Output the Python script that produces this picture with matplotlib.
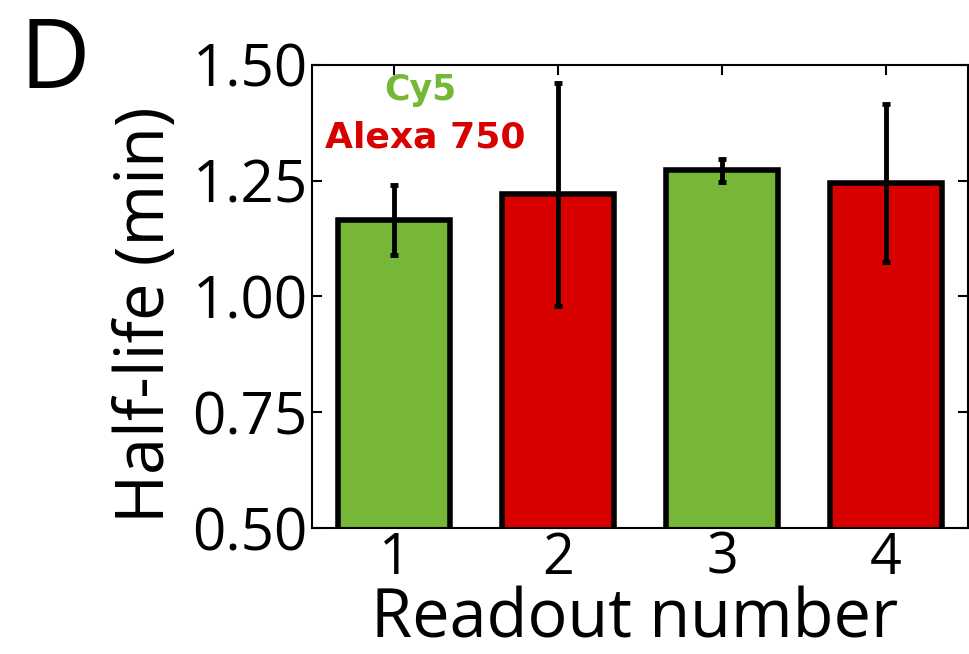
import matplotlib.pyplot as plt

plt.rcParams['font.family'] = ['Open Sans', 'DejaVu Sans']

# half-life per readout round, with error bars
readouts = [1, 2, 3, 4]
half_life = [1.165, 1.22, 1.272, 1.245]
half_life_err = [0.075, 0.24, 0.025, 0.17]
dyes = ['Cy5', 'Alexa 750', 'Cy5', 'Alexa 750']

green = '#76B737'
red = '#D90000'
dye_colors = {'Cy5': green, 'Alexa 750': red}

fig = plt.figure(figsize=(9.69, 6.54), dpi=100)
ax = fig.add_axes([0.322, 0.193, 0.677, 0.708])

ax.bar(readouts, half_life, width=0.68, color=[dye_colors[d] for d in dyes],
       edgecolor='black', linewidth=4, zorder=2)
ax.errorbar(readouts, half_life, yerr=half_life_err, fmt='none', ecolor='black',
            elinewidth=3.5, capsize=3, capthick=3.5, zorder=3)

ax.set_xlim(0.5, 4.5)
ax.set_ylim(0.5, 1.5)
ax.set_xticks(readouts)
ax.set_yticks([0.5, 0.75, 1.0, 1.25, 1.5])
ax.set_yticklabels(['0.50', '0.75', '1.00', '1.25', '1.50'])
ax.tick_params(direction='in', top=True, right=True, length=7, width=1.5, pad=3)
ax.tick_params(axis='y', labelsize=42)
ax.tick_params(axis='x', labelsize=40, pad=2)
for s in ax.spines.values():
    s.set_linewidth(1.5)

ax.set_xlabel('Readout number', fontsize=48, va='baseline')
ax.xaxis.set_label_coords(0.492, -0.237)
ax.set_ylabel('Half-life (min)', fontsize=48, va='baseline', rotation_mode='anchor')
ax.yaxis.set_label_coords(-0.225, 0.46)

# dye legend drawn as coloured text
ax.text(0.165, 0.924, 'Cy5', color=green, fontsize=25, fontweight='bold',
        family='DejaVu Sans', ha='center', va='baseline', transform=ax.transAxes)
ax.text(0.172, 0.821, 'Alexa 750', color=red, fontsize=26, fontweight='bold',
        family='DejaVu Sans', ha='center', va='baseline', transform=ax.transAxes)

fig.text(0.02, 0.866, 'D', fontsize=70, ha='left', va='baseline')

fig.savefig('out.png', dpi=100)
